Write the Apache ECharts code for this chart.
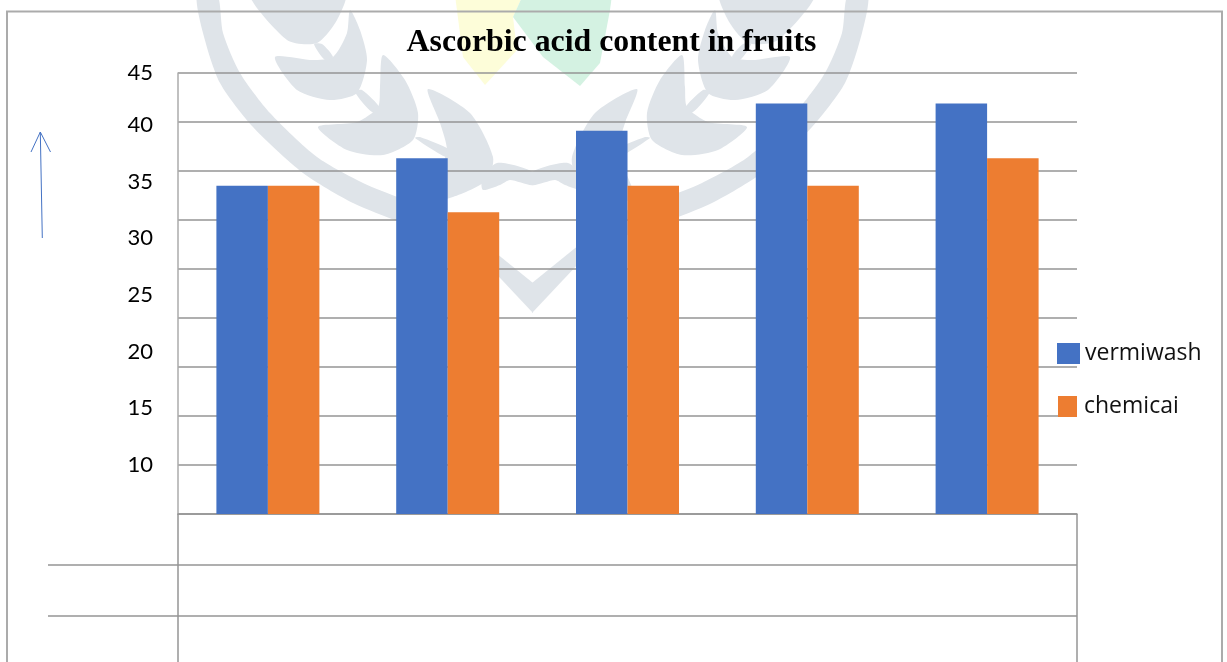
<!DOCTYPE html>
<html>
<head>
<meta charset="utf-8">
<style>html,body{margin:0;padding:0;background:#fff}#c{width:1227px;height:662px}</style>
<script src="https://cdn.jsdelivr.net/npm/echarts@6/dist/echarts.min.js"></script>
</head>
<body>
<div id="c"></div>
<script>
// Chart content
const chartTitle = 'Ascorbic acid content in fruits';
const samples = ['1', '2', '3', '4', '5'];
const seriesNames = ['vermiwash', 'chemicai'];
const vermiwash = [33.5, 36.3, 39.1, 41.9, 41.9];
const chemicai = [33.5, 30.8, 33.5, 33.5, 36.3];
const gridValueMax = 45;
const gridValueStep = 5;
const labelValueMin = 10;
const labelValueMax = 45;

// Palette
const BLUE = '#4472c4';
const ORANGE = '#ed7d31';
const RULE = '#959595';
const FRAME = '#ababab';
const CREST = '#dfe4e9';

// Pale crest behind the plot: outlines for the left half, mirrored about the centre
const AXIS_X = 532.5;
const crestLeft = [
  // outer ring
  [[197,-6],[203,33],[220,83],[253,127],[303,173],[353,203],[400,222],[440,235],[440,212],[400,198],[363,183],[317,157],[270,113],[240,73],[223,33],[217,-6]],
  // top leaves
  [[250,-8],[345,-8],[337,20],[317,43],[287,40]],
  [[350,10],[360,30],[367,60],[357,93],[330,100],[297,90],[275,57],[313,60],[333,57],[347,33]],
  [[314,44],[322,44],[333,57],[325,60]],
  [[355,92],[362,90],[380,108],[372,112]],
  // lower leaves
  [[383,55],[405,80],[418,113],[413,140],[383,155],[347,150],[318,127],[357,122],[378,107],[380,87]],
  [[415,138],[420,137],[450,150],[448,158]],
  [[428,89],[470,113],[493,157],[487,180],[453,197],[430,200],[440,170],[447,150],[440,123]],
  // centre knot
  [[483,190],[482,180],[497,163],[533,172],[533,185],[510,180],[500,185]],
  // ribbon point
  [[470,232],[533,283],[533,313],[470,246]]
];
const mirror = pts => pts.map(([x, y]) => [2 * AXIS_X - x, y]);
const crestShapes = crestLeft.concat(crestLeft.map(mirror)).map((points, i) => ({
  type: 'polygon', z: -2, silent: true,
  shape: { points, smooth: i % 10 === 9 ? 0 : 0.25 }, style: { fill: CREST }
}));

const tintShapes = [
  [[455,-5],[463,57],[485,85],[517,50],[513,17],[523,-5]],
  [[523,-5],[513,17],[543,57],[580,86],[600,63],[610,10],[612,-5]]
].map((points, i) => ({
  type: 'polygon', z: -2, silent: true,
  shape: { points }, style: { fill: i ? '#d4f2e2' : '#fdfdd9' }
}));

const line = (points, stroke, width) => ({
  type: 'polyline', z: 1, silent: true,
  shape: { points },
  style: { stroke, lineWidth: width, fill: null }
});

const tickFont = { fontFamily: 'Lato', fontSize: 22, color: '#000' };
const legendBase = {
  orient: 'vertical', padding: 0, selectedMode: false, icon: 'rect',
  textStyle: { fontFamily: 'Open Sans', fontSize: 23, color: '#111' }
};

const chart = echarts.init(document.getElementById('c'), null, { renderer: 'canvas' });
chart.setOption({
  animation: false,
  backgroundColor: '#fff',
  title: {
    text: chartTitle, left: 611.5, top: 27, textAlign: 'center', padding: 0,
    textStyle: { fontFamily: 'Liberation Serif', fontWeight: 'bold', fontSize: 31.8, color: '#000' }
  },
  legend: [
    Object.assign({}, legendBase, { data: [seriesNames[0]], left: 1057, top: 342, itemWidth: 23, itemHeight: 21 }),
    Object.assign({}, legendBase, { data: [seriesNames[1]], left: 1058, top: 395, itemWidth: 19, itemHeight: 21,
      textStyle: Object.assign({}, legendBase.textStyle, { padding: [0, 0, 0, 2] }) })
  ],
  grid: [
    { left: 178, top: 73, width: 899, height: 441 },
    // tick labels run on their own wider scale to the left of the plot
    { left: 178, top: 68.33, width: 899, height: 396.67 }
  ],
  xAxis: [
    { type: 'category', gridIndex: 0, data: samples,
      axisLine: { lineStyle: { color: RULE, width: 1.5 } },
      axisTick: { show: false }, axisLabel: { show: false } },
    { type: 'category', gridIndex: 1, data: samples, show: false }
  ],
  yAxis: [
    { type: 'value', gridIndex: 0, min: 0, max: gridValueMax, interval: gridValueStep,
      axisLine: { show: true, lineStyle: { color: FRAME, width: 1.5 } },
      axisTick: { show: false }, axisLabel: { show: false },
      splitLine: { show: true, lineStyle: { color: RULE, width: 1.5 } } },
    { type: 'value', gridIndex: 1, min: labelValueMin, max: labelValueMax, interval: gridValueStep,
      axisLine: { show: false }, axisTick: { show: false }, splitLine: { show: false },
      axisLabel: Object.assign({}, tickFont, {
        margin: 25,
        formatter: v => v === labelValueMax ? '{top|' + v + '}' : String(v),
        rich: { top: Object.assign({}, tickFont, { padding: [10, 0, 0, 0] }) }
      }) }
  ],
  series: [
    { name: seriesNames[0], type: 'bar', data: vermiwash, barWidth: 51.5, barGap: 0,
      itemStyle: { color: BLUE } },
    { name: seriesNames[1], type: 'bar', data: chemicai, barWidth: 51.5, barGap: 0,
      itemStyle: { color: ORANGE } }
  ],
  graphic: crestShapes.concat(tintShapes, [
    // outer chart frame, open at the bottom edge
    line([[7,662],[7,11.5],[1222,11.5],[1222,662]], FRAME, 2),
    // extension of the plot below the baseline
    line([[178,514],[178,662]], RULE, 1.5),
    line([[1077,514],[1077,662]], RULE, 1.5),
    line([[48,565],[1077,565]], RULE, 1.5),
    line([[48,616],[1077,616]], RULE, 1.5),
    // hand-drawn upward arrow
    line([[42.3,238],[40.3,132]], BLUE, 1),
    line([[31,152],[40.3,132],[50.5,152]], BLUE, 1)
  ])
});
</script>
</body>
</html>
